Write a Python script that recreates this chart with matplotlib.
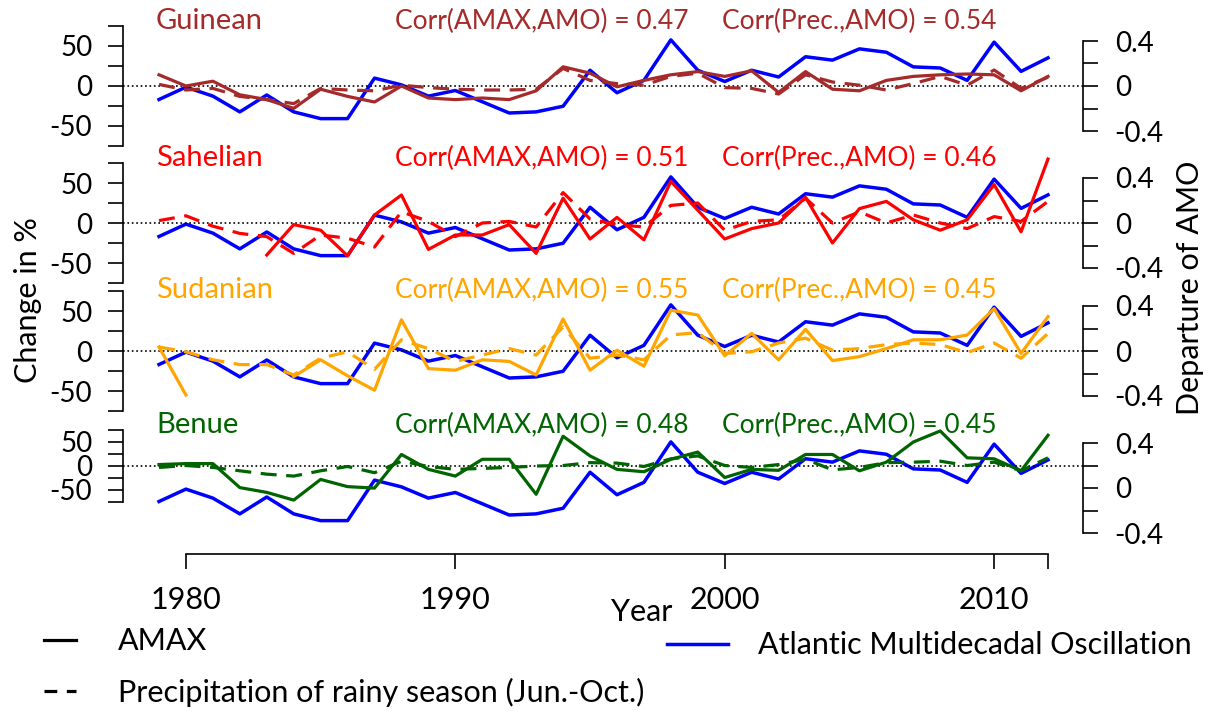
import numpy as np
import matplotlib.pyplot as plt
from matplotlib.lines import Line2D

plt.rcParams['font.family'] = ['Lato', 'DejaVu Sans']

years = np.arange(1979, 2013)

# Atlantic Multidecadal Oscillation (departure)
amo = [-0.12, -0.01, -0.09, -0.23, -0.08, -0.23, -0.29, -0.29, 0.07, 0.01,
       -0.09, -0.04, -0.14, -0.24, -0.23, -0.18, 0.14, -0.06, 0.05, 0.41,
       0.14, 0.04, 0.14, 0.08, 0.26, 0.23, 0.33, 0.30, 0.17, 0.16,
       0.05, 0.39, 0.13, 0.25]

nan = np.nan
# change in % : AMAX (solid) and rainy season precipitation (dashed)
guinean_amax = [14, 0, 6, -11, -17, -28, -4, -13, -20, 0,
                -15, -17, -15, -17, -6, 24, 16, -1, 7, 14,
                18, 12, 19, -8, 18, -4, -6, 7, 12, 14,
                15, 14, -6, 12]
guinean_prec = [2, -5, -3, -13, -17, -22, -3, -5, -6, 1,
                -2, -4, -5, -5, -4, 22, 7, 3, 1, 12,
                16, -2, -3, -10, 14, 5, 1, -5, 3, 12,
                1, 20, -3, 11]
sahelian_amax = [nan, nan, nan, nan, -40, -2, -9, -41, 10, 35,
                 -33, -15, -15, -2, -38, 31, -20, 7, -21, 52,
                 16, -20, -7, 0, 32, -25, 18, 27, 4, -9,
                 4, 48, -11, 80]
sahelian_prec = [3, 9, -4, -13, -17, -38, -15, -19, -30, 14,
                 2, -17, 0, 2, -5, 38, 5, -2, -5, 22,
                 25, -9, 2, 4, 31, 0, 14, 0, 10, 0,
                 -7, 8, 2, 27]
sudanian_amax = [5, -55, nan, nan, nan, -32, -11, -31, -49, 39,
                 -22, -24, -11, -13, -30, 40, -24, 1, -19, 51,
                 45, -6, 22, -11, 27, -12, -7, 3, 14, 14,
                 20, 53, -3, 43]
sudanian_prec = [5, -1, -11, -17, -17, -30, -9, -1, -23, 14,
                 3, -13, -5, 3, -5, 30, -9, -5, -11, 20,
                 23, -3, -1, 10, 16, 1, 3, 8, 10, 8,
                 -2, 10, -9, 22]
benue_amax = [3, 5, 5, -45, -55, -71, -28, -43, -46, 24,
              -7, -21, 14, 14, -59, 62, 21, -7, -12, 14,
              29, -24, -7, -9, 24, 24, -10, 8, 50, 73,
              17, 15, -10, 64]
benue_prec = [-3, 1, -3, -10, -17, -21, -10, -1, -14, 10,
              -1, -7, -5, -3, 0, 1, 7, 6, -1, 15,
              21, 1, -3, 3, 14, -8, -3, 7, 8, 10,
              1, 8, -10, 17]

names = ['Guinean', 'Sahelian', 'Sudanian', 'Benue']
colors = ['#A52A2A', '#FF0000', '#FFA500', '#006400']
corr_amax = ['0.47', '0.51', '0.55', '0.48']
corr_prec = ['0.54', '0.46', '0.45', '0.45']
amax_all = [guinean_amax, sahelian_amax, sudanian_amax, benue_amax]
prec_all = [guinean_prec, sahelian_prec, sudanian_prec, benue_prec]

W, H = 1215, 713
fig = plt.figure(figsize=(W / 100, H / 100), dpi=100)

x0, x1 = 159, 1048  # pixel position of 1979 and 2012
# per panel: top px, bottom px, left zero px, left px/unit, right zero px, right px/unit, label y
layout = [(20, 150, 86, 0.8, 86, 112.5, 21),
          (155, 290, 223, 0.8, 223, 112.5, 158),
          (290, 420, 351, 0.8, 351, 112.5, 290),
          (425, 554, 466, 0.48, 488, 112.5, 425)]

def fx(px):
    return px / W

def fy(py):
    return 1 - py / H

fs = 22      # axis titles, legend
fs_tick = 20
fs_name = 21
fs_corr = 19
for i in range(4):
    t, b, zl, sl, zr, sr, ly = layout[i]
    ax = fig.add_axes([fx(x0), fy(b), fx(x1) - fx(x0), (b - t) / H])
    ax.patch.set_alpha(0)
    ax.set_xlim(1979, 2012)
    ax.set_ylim((zl - b) / sl, (zl - t) / sl)
    ax2 = ax.twinx()
    ax2.set_ylim((zr - b) / sr, (zr - t) / sr)

    ax.axhline(0, xmin=-0.041, xmax=1.04, color='k', ls=':', lw=1.2, clip_on=False)
    ax2.plot(years, amo, color='#0000FF', lw=2.5, clip_on=False, zorder=3)
    ax.plot(years, amax_all[i], color=colors[i], lw=2.3, clip_on=False, zorder=4)
    ax.plot(years, prec_all[i], color=colors[i], lw=2.3, ls=(0, (5, 3)), clip_on=False, zorder=4)
    ax.set_zorder(ax2.get_zorder() + 1)

    for s in ['top', 'bottom', 'right']:
        ax.spines[s].set_visible(False)
    for s in ['top', 'bottom', 'left']:
        ax2.spines[s].set_visible(False)
    # offsets in points (36 px and 35 px)
    ax.spines['left'].set_position(('outward', 26))
    ax.spines['left'].set_bounds(-75, 75)
    ax.spines['left'].set_linewidth(1.2)
    ax.set_yticks([-75, -50, -25, 0, 25, 50, 75])
    ax.set_yticklabels(['', '-50', '', '0', '', '50', ''])
    ax.tick_params(axis='y', length=11, width=1.2, labelsize=fs_tick, pad=11)
    ax2.spines['right'].set_position(('outward', 25))
    ax2.spines['right'].set_bounds(-0.4, 0.4)
    ax2.spines['right'].set_linewidth(1.2)
    ax2.set_yticks([-0.4, -0.2, 0, 0.2, 0.4])
    ax2.set_yticklabels(['-0.4', '', '0', '', '0.4'])
    ax2.tick_params(axis='y', length=11, width=1.2, labelsize=fs_tick, pad=12)

    if i < 3:
        ax.tick_params(axis='x', bottom=False, labelbottom=False)
    else:
        ax.spines['bottom'].set_visible(True)
        ax.spines['bottom'].set_bounds(1980, 2012)
        ax.spines['bottom'].set_linewidth(1.2)
        ax.set_xticks([1980, 1990, 2000, 2010, 2012])
        ax.set_xticklabels(['1980', '1990', '2000', '2010', ''])
        ax.tick_params(axis='x', length=11, width=1.2, labelsize=fs, pad=12)

    fig.text(fx(156), fy(ly), names[i], color=colors[i], fontsize=fs_name, va='center', ha='left')
    fig.text(fx(395), fy(ly), 'Corr(AMAX,AMO) = ' + corr_amax[i], color=colors[i],
             fontsize=fs_corr, va='center', ha='left')
    fig.text(fx(722), fy(ly), 'Corr(Prec.,AMO) = ' + corr_prec[i], color=colors[i],
             fontsize=fs_corr, va='center', ha='left')

fig.text(fx(28), fy(300), 'Change in %', rotation=90, fontsize=fs, va='center', ha='center')
fig.text(fx(1190), fy(288), 'Departure of AMO', rotation=90, fontsize=fs, va='center', ha='center')
fig.text(fx(642), fy(612), 'Year', fontsize=fs, va='center', ha='center')

h1 = Line2D([], [], color='k', lw=2.3)
h2 = Line2D([], [], color='k', lw=2.3, ls=(0, (4, 3)))
h3 = Line2D([], [], color='#0000FF', lw=2.5)
leg1 = fig.legend([h1, h2], ['AMAX', 'Precipitation of rainy season (Jun.-Oct.)'],
                  loc='upper left', bbox_to_anchor=(fx(16), fy(600)), frameon=False,
                  fontsize=fs, handlelength=1.05, handletextpad=1.4, labelspacing=0.72)
leg2 = fig.legend([h3], ['Atlantic Multidecadal Oscillation'],
                  loc='upper left', bbox_to_anchor=(fx(639), fy(604)), frameon=False,
                  fontsize=fs, handlelength=2.0, handletextpad=1.0)

fig.savefig('out.png', dpi=100)
